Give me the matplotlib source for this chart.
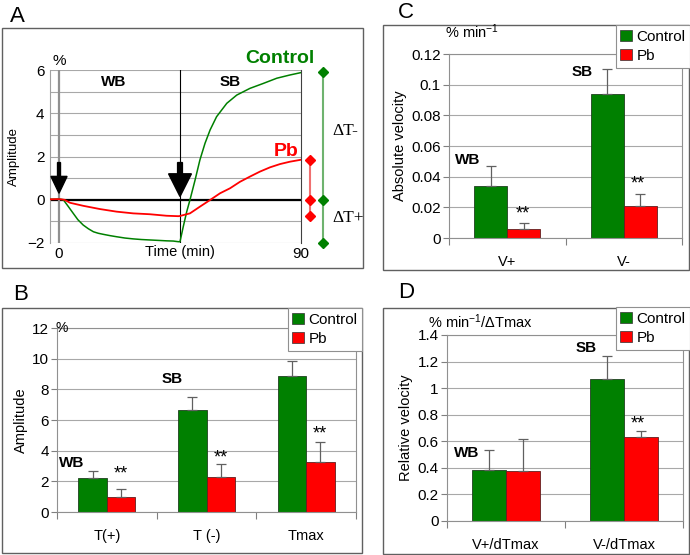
import matplotlib
matplotlib.use("Agg")
import matplotlib.pyplot as plt
from matplotlib.patches import Rectangle, Patch
import numpy as np

plt.rcParams['font.family'] = ['Liberation Sans', 'DejaVu Sans']
plt.rcParams['mathtext.fontset'] = 'custom'
plt.rcParams['mathtext.rm'] = 'Liberation Sans'
plt.rcParams['mathtext.it'] = 'Liberation Sans:italic'
plt.rcParams['mathtext.bf'] = 'Liberation Sans:bold'

# ---------------- data ----------------
# Panel A time courses (time in min, amplitude in %)
ctrl_t = [-3.3, 0, 1.6, 3.5, 5.3, 7.0, 9.0, 10.9, 12.8, 14.6, 16.5, 19.0, 21.4, 24.5, 27.6, 30.7, 33.8, 37.0, 40.0, 42.5, 44.4,
          45.0, 46.2, 47.5, 48.7, 50.6, 52.4, 54.3, 56.2, 58.6, 62.4, 66.1, 71.0, 76.0, 81.0, 85.9, 90.0]
ctrl_v = [0.02, 0.03, 0.0, -0.32, -0.63, -0.92, -1.17, -1.34, -1.48, -1.55, -1.60, -1.66, -1.71, -1.77, -1.81, -1.84, -1.86, -1.88, -1.90, -1.91, -1.94,
          -1.94, -1.25, -0.55, -0.01, 0.91, 1.84, 2.61, 3.23, 3.84, 4.46, 4.84, 5.15, 5.38, 5.62, 5.77, 5.88]
pb_t = [-3.3, 0, 2.0, 4.1, 9.0, 15.2, 21.4, 27.6, 33.8, 40.0, 44.4, 45.0, 48.7, 52.4, 56.2, 59.9, 63.6, 67.3, 71.0, 74.7, 78.5, 82.2, 85.9, 90.0]
pb_v = [0.02, 0.03, 0.0, -0.14, -0.28, -0.43, -0.55, -0.63, -0.67, -0.74, -0.76, -0.75, -0.63, -0.32, -0.01, 0.30, 0.53, 0.83, 1.07, 1.30, 1.50, 1.65, 1.76, 1.85]
ctrl_marks = [5.9, 0, -2.0]
pb_marks = [1.85, 0, -0.75]

# Panel B amplitudes
b_cats = ['T(+)', 'T (-)', 'Tmax']
b_ctrl = [2.2, 6.65, 8.85]
b_ctrl_err = [0.5, 0.85, 1.0]
b_pb = [1.0, 2.3, 3.25]
b_pb_err = [0.5, 0.85, 1.3]

# Panel C absolute velocity
c_cats = ['V+', 'V-']
c_ctrl = [0.034, 0.094]
c_ctrl_err = [0.013, 0.016]
c_pb = [0.006, 0.021]
c_pb_err = [0.004, 0.008]

# Panel D relative velocity
d_cats = ['V+/dTmax', 'V-/dTmax']
d_ctrl = [0.385, 1.07]
d_ctrl_err = [0.15, 0.17]
d_pb = [0.38, 0.63]
d_pb_err = [0.24, 0.05]

GREEN = '#008000'
RED = '#ff0000'
GRID = '#a8a8a8'

W, H = 690, 555
fig = plt.figure(figsize=(W / 100, H / 100), dpi=100)


def rect(l, t, r, b):
    return [l / W, 1 - b / H, (r - l) / W, (b - t) / H]


def frame(l, t, r, b):
    fig.patches.append(Rectangle((l / W, 1 - b / H), (r - l) / W, (b - t) / H,
                                 transform=fig.transFigure, fill=False,
                                 edgecolor='#606060', lw=1.0, zorder=0))


frame(2, 28, 363, 268)
frame(2, 308, 362, 553)
frame(383, 25, 689, 270)
frame(383, 308, 689, 554)

for s, x, y in [('A', 10, 16), ('B', 13, 294), ('C', 398, 13), ('D', 398, 293)]:
    fig.text(x / W, 1 - y / H, s, fontsize=16, ha='left', va='center')

# ---------------- Panel A ----------------
axA = fig.add_axes(rect(50, 70, 301, 243))
axA.set_xlim(-3.35, 90)
axA.set_ylim(-2, 6)
for v in range(-2, 7):
    axA.axhline(v, color=GRID, lw=0.8, zorder=0)
axA.axhline(0, color='black', lw=1.6, zorder=1)
axA.axvline(0, color='#909090', lw=1.6, zorder=1)
axA.axvline(45, color='black', lw=0.8, zorder=1)
axA.plot(ctrl_t, ctrl_v, color=GREEN, lw=1.1, zorder=3)
axA.plot(pb_t, pb_v, color=RED, lw=1.3, zorder=3)
for sp in ['top', 'bottom']:
    axA.spines[sp].set_visible(False)
axA.spines['left'].set_color('#a0a0a0')
axA.spines['left'].set_linewidth(0.8)
axA.spines['right'].set_color('#404040')
axA.spines['right'].set_linewidth(0.8)
axA.set_yticks([-2, 0, 2, 4, 6])
axA.set_xticks([0, 90])
axA.tick_params(axis='both', length=0, labelsize=11, pad=4)
axA.tick_params(axis='x', pad=3)
axA.set_ylabel('Amplitude', fontsize=9.5, labelpad=5)
axA.text(45, -2.1, 'Time (min)', ha='center', va='top', fontsize=10.5)
axA.text(0, 6.1, '%', ha='center', va='bottom', fontsize=11)
axA.text(82, 6.55, 'Control', color=GREEN, fontsize=14, fontweight='bold', ha='center', va='center')
axA.text(84.5, 2.25, 'Pb', color=RED, fontsize=14, fontweight='bold', ha='center', va='center')
axA.text(20.5, 5.45, 'WB', fontsize=11, fontweight='bold', ha='center', va='center')
axA.text(63.5, 5.45, 'SB', fontsize=11, fontweight='bold', ha='center', va='center')
# arrows
axA.arrow(0, 1.72, 0, 0.3 - 1.72, width=1.1, head_width=6.0, head_length=0.78,
          length_includes_head=True, color='black', zorder=5)
axA.arrow(45, 1.72, 0, 0.15 - 1.72, width=1.8, head_width=8.5, head_length=1.05,
          length_includes_head=True, color='black', zorder=5)
# delta-T brackets
xg, xr = 98.2, 93.3
axA.plot([xg, xg], [ctrl_marks[0], ctrl_marks[2]], color='#6fb36f', lw=1.5, clip_on=False, zorder=4)
axA.plot([xg] * 3, ctrl_marks, ls='none', marker='D', ms=5, color=GREEN, clip_on=False, zorder=5)
axA.plot([xr, xr], [pb_marks[0], pb_marks[2]], color='#f07070', lw=1.5, clip_on=False, zorder=4)
axA.plot([xr] * 3, pb_marks, ls='none', marker='D', ms=5, color=RED, clip_on=False, zorder=5)
axA.text(101.8, 3.2, '\u0394T-', fontsize=12.5, family='Liberation Serif', ha='left', va='center')
axA.text(101.8, -0.85, '\u0394T+', fontsize=12.5, family='Liberation Serif', ha='left', va='center')


# ---------------- bar panels ----------------
def bar_panel(box, cats, cv, ce, pv, pe, ymax, step, ylabel, fmt, leg_ur):
    ax = fig.add_axes(rect(*box))
    n = len(cats)
    x = np.arange(n)
    w = 0.285
    ax.set_xlim(-0.5, n - 0.5)
    ax.set_ylim(0, ymax)
    ticks = np.arange(0, ymax + step / 2, step)
    ax.set_yticks(ticks)
    ax.set_yticklabels([fmt(t) for t in ticks])
    ax.yaxis.grid(True, color=GRID, lw=0.8)
    ax.set_axisbelow(True)
    ax.bar(x - w / 2, cv, w, color=GREEN, edgecolor='#204020', lw=0.6, zorder=2)
    ax.bar(x + w / 2, pv, w, color=RED, edgecolor='#602020', lw=0.6, zorder=2)
    ax.errorbar(x - w / 2, cv, yerr=[[0] * n, ce], fmt='none', ecolor='#606060',
                elinewidth=0.9, capsize=3.5, capthick=0.9, zorder=3)
    ax.errorbar(x + w / 2, pv, yerr=[[0] * n, pe], fmt='none', ecolor='#606060',
                elinewidth=0.9, capsize=3.5, capthick=0.9, zorder=3)
    ax.set_xticks(np.arange(-0.5, n, 1.0))
    ax.set_xticklabels([''] * (n + 1))
    ax.set_xticks(x, minor=True)
    ax.set_xticklabels(cats, minor=True)
    ax.tick_params(axis='x', which='major', length=5, color='#808080', direction='out')
    ax.tick_params(axis='x', which='minor', length=0, labelsize=10.5, pad=12)
    ax.tick_params(axis='y', length=4, color='#808080', labelsize=11, pad=2)
    for sp in ax.spines.values():
        sp.set_color('#909090')
        sp.set_linewidth(0.8)
    ax.set_ylabel(ylabel, fontsize=10.5, labelpad=3)
    handles = [Patch(facecolor=GREEN, edgecolor='#303030', lw=0.5),
               Patch(facecolor=RED, edgecolor='#303030', lw=0.5)]
    leg = fig.legend(handles, ['Control', 'Pb'], loc='upper right',
                     bbox_to_anchor=(leg_ur[0] / W, 1 - leg_ur[1] / H),
                     fontsize=11, frameon=True, fancybox=False, edgecolor='#909090',
                     framealpha=1, borderpad=0.3, handlelength=0.75, handleheight=0.75,
                     handletextpad=0.3, labelspacing=0.35, borderaxespad=0)
    leg.get_frame().set_linewidth(0.8)
    return ax


def f_int(t):
    return '%d' % round(t)


def f_dec(t):
    s = ('%.2f' % t).rstrip('0').rstrip('.')
    return s


axB = bar_panel((57, 328, 356, 512), b_cats, b_ctrl, b_ctrl_err, b_pb, b_pb_err,
                12, 2, 'Amplitude', f_int, (362, 308))
axB.text(-0.35, 3.2, 'WB', fontsize=11, fontweight='bold', ha='center', va='center')
axB.text(0.66, 8.7, 'SB', fontsize=11, fontweight='bold', ha='center', va='center')
for xx, yy in [(0.14, 2.45), (1.14, 3.5), (2.14, 5.1)]:
    axB.text(xx, yy, '**', fontsize=13, ha='center', va='center')
axB.text(-0.45, 12.0, '%', fontsize=10, ha='center', va='center')

axC = bar_panel((449, 54, 682, 238), c_cats, c_ctrl, c_ctrl_err, c_pb, c_pb_err,
                0.12, 0.02, 'Absolute velocity', f_dec, (690, 25))
axC.text(-0.34, 0.051, 'WB', fontsize=11, fontweight='bold', ha='center', va='center')
axC.text(0.64, 0.108, 'SB', fontsize=11, fontweight='bold', ha='center', va='center')
for xx, yy in [(0.135, 0.0155), (1.12, 0.0355)]:
    axC.text(xx, yy, '**', fontsize=13, ha='center', va='center')
fig.text(445 / W, 1 - 32 / H, r'% min$^{-1}$', fontsize=10.5, ha='left', va='center')

axD = bar_panel((447, 335, 683, 521), d_cats, d_ctrl, d_ctrl_err, d_pb, d_pb_err,
                1.4, 0.2, 'Relative velocity', f_dec, (690, 307))
axD.text(-0.33, 0.51, 'WB', fontsize=11, fontweight='bold', ha='center', va='center')
axD.text(0.68, 1.3, 'SB', fontsize=11, fontweight='bold', ha='center', va='center')
axD.text(1.12, 0.73, '**', fontsize=13, ha='center', va='center')
fig.text(428 / W, 1 - 322 / H, '% min$^{-1}$/\u0394Tmax', fontsize=10.5, ha='left', va='center')

fig.savefig('out.png', dpi=100)
